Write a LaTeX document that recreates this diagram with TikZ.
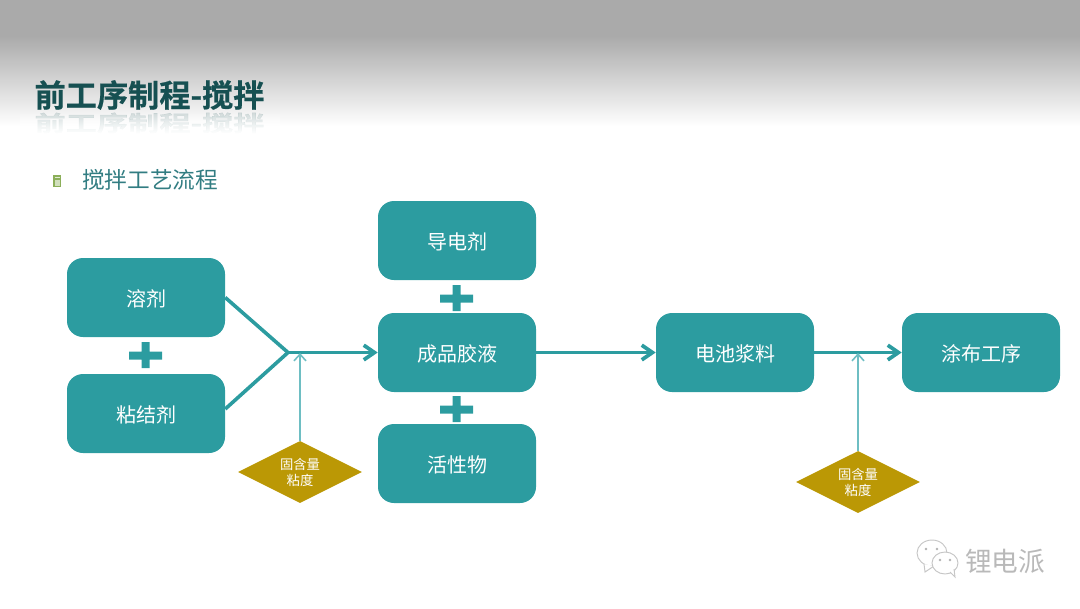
\documentclass[tikz,border=0pt]{standalone}
\usepackage{fontspec}
\setmainfont{Noto Sans CJK SC}
\newfontfamily\titlefont[FakeBold=0.6]{Noto Sans CJK SC Bold}
\usetikzlibrary{arrows.meta,shapes.geometric,fadings}
\definecolor{tealbox}{RGB}{44,156,160}
\definecolor{teallight}{RGB}{110,190,195}
\definecolor{golddia}{RGB}{187,152,5}
\definecolor{titlegreen}{RGB}{22,80,82}
\definecolor{subteal}{RGB}{50,125,130}
\definecolor{bulletgreen}{RGB}{140,175,90}
\tikzset{
  stepbox/.style={draw=none,fill=tealbox,rounded corners=12pt,minimum width=118.5pt,minimum height=59.25pt,inner xsep=0pt,inner ysep=0pt,text height=14.4pt,text depth=1.5pt,text=white,font=\fontsize{15}{18}\selectfont},
  testdia/.style={diamond,aspect=2,fill=golddia,minimum width=93pt,minimum height=46.5pt,inner sep=0pt,text=white,align=center,font=\fontsize{10}{12}\selectfont},
  titletext/.style={inner sep=0pt,font=\titlefont\fontsize{23.4}{28}\selectfont},
  bubble/.style={draw=gray!45,fill=white,line width=0.7pt},
  mainline/.style={draw=tealbox,line width=2.7pt},
  mainarrow/.style={mainline,-{Straight Barb[length=8pt,width=11pt,line width=2.8pt]}},
  testarrow/.style={draw=teallight,line width=1.2pt,-{Straight Barb[length=5pt,width=9pt]}}
}
\begin{document}
\begin{tikzpicture}[x=0.75pt,y=0.75pt,yscale=-1,xscale=1]
\useasboundingbox (0,0) rectangle (1080,608);

%Header band
\fill [color={rgb,255:red,170;green,170;blue,170}] (0,0) rectangle (1080,36);
\shade [top color={rgb,255:red,170;green,170;blue,170},bottom color=white] (0,36) rectangle (1080,126);

% Title and its reflection
\node (titlerefl) at (149.5,123) [yscale=-0.7,transform shape,text=titlegreen,opacity=0.16,titletext] {前工序制程-搅拌};
\fill [white,path fading=north] (20,112) rectangle (280,134);
\node (title) at (149.5,95) [text=titlegreen,titletext] {前工序制程-搅拌};

% Sub heading
\node (bullet) at (57,181) [fill=bulletgreen,minimum width=6pt,minimum height=9pt,inner sep=0pt] {};
\fill [white!75!bulletgreen] (54.5,176.5) rectangle (59.5,178);
\fill [white!60!bulletgreen] (54.5,180) rectangle (59.5,185.5);
\node (subhead) at (150,179.5) [text=subteal,font=\fontsize{17}{20}\selectfont] {搅拌工艺流程};

% Text Node
\node (solvent) at (146,297.5) [stepbox] {溶剂};
\node (binder) at (146,413.5) [stepbox] {粘结剂};
\node (conductive) at (457,240.5) [stepbox] {导电剂};
\node (glue) at (457,352.5) [stepbox] {成品胶液};
\node (active) at (457,463.5) [stepbox] {活性物};
\node (slurry) at (735,352.5) [stepbox] {电池浆料};
\node (coating) at (981,352.5) [stepbox] {涂布工序};

%Plus signs
\fill [tealbox] (129,351.5) rectangle (162,359.5) (141.5,342) rectangle (149.5,368);
\fill [tealbox] (440,294.5) rectangle (473,302.5) (452.5,285) rectangle (460.5,311);
\fill [tealbox] (440,405.5) rectangle (473,413.5) (452.5,396) rectangle (460.5,422);

%Diamonds
\node (diaone) at (300,472) [testdia] {固含量\\粘度};
\node (diatwo) at (858,482) [testdia] {固含量\\粘度};

%Straight Lines
\coordinate (join) at (288,352.5);
\coordinate (jointop) at (300,353);
\coordinate (slurrytop) at (858,353);
\draw [mainline] (solvent.east) -- (join);
\draw [mainline] ([yshift=-3.4pt]binder.east) -- (join);
\draw [mainarrow] (join) -- (glue.west);
\draw [mainarrow] (glue.east) -- (slurry.west);
\draw [mainarrow] (slurry.east) -- (coating.west);
\draw [testarrow] (diaone.north) -- (jointop);
\draw [testarrow] (diatwo.north) -- (slurrytop);

% Watermark
\draw [bubble] (932,553) ellipse (15 and 13);
\draw [bubble] (924,564) -- (925,572) -- (934,566);
\draw [bubble] (945,563) ellipse (13 and 11);
\draw [bubble] (950,572) -- (955,577) -- (954,569);
\fill [gray!60] (926,549) circle (1.3) (937,549) circle (1.3) (940,560) circle (1.3) (950,560) circle (1.3);
\node (mark) at (1005,561) [text=gray!55,font=\fontsize{20}{24}\selectfont] {锂电派};

\end{tikzpicture}
\end{document}
